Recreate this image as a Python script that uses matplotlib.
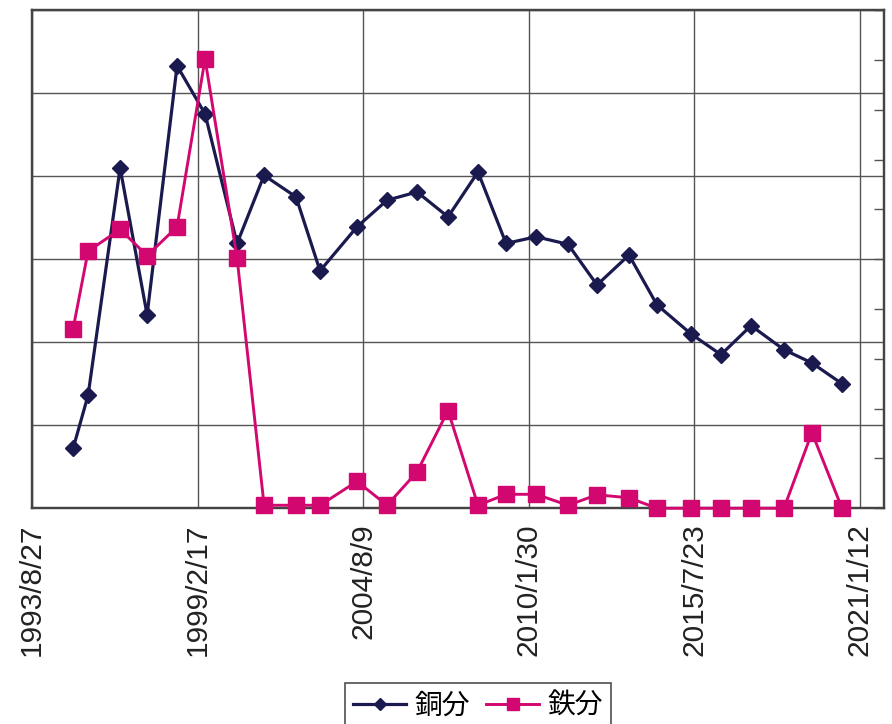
import matplotlib.pyplot as plt
import pandas as pd

# sampling dates and measured values
dates = ['1995/1/4', '1995/7/4', '1996/7/25', '1997/6/16', '1998/6/13',
         '1999/5/17', '2000/6/7', '2001/4/29', '2002/5/20', '2003/3/6',
         '2004/5/26', '2005/5/23', '2006/5/21', '2007/5/30', '2008/5/26',
         '2009/4/30', '2010/4/27', '2011/5/18', '2012/5/3', '2013/5/24',
         '2014/4/27', '2015/6/12', '2016/6/8', '2017/6/6', '2018/7/9',
         '2019/6/12', '2020/6/9']
copper = [7.2, 13.6, 41.0, 23.3, 53.3, 47.5, 31.9, 40.1, 37.5, 28.6,
          33.9, 37.1, 38.1, 35.1, 40.5, 31.9, 32.7, 31.8, 26.9, 30.5,
          24.5, 21.0, 18.5, 22.0, 19.1, 17.5, 15.0]
iron = [0.36, 0.516, 0.56, 0.507, 0.565, 0.902, 0.502, 0.006, 0.006, 0.006,
        0.054, 0.006, 0.073, 0.196, 0.006, 0.028, 0.028, 0.006, 0.027, 0.021,
        0.0, 0.0, 0.0, 0.0, 0.0, 0.152, 0.0]
tick_labels = ['1993/8/27', '1999/2/17', '2004/8/9', '2010/1/30', '2015/7/23', '2021/1/12']

x = pd.to_datetime(dates, format='%Y/%m/%d')
ticks = pd.to_datetime(tick_labels, format='%Y/%m/%d')

navy = '#1b1a4f'
magenta = '#d2076f'

fig = plt.figure(figsize=(8.92, 7.24), dpi=100)
ax = fig.add_axes([0.036, 0.298, 0.955, 0.688])
ax2 = ax.twinx()

l1, = ax.plot(x, copper, color=navy, lw=2.3, marker='D', ms=8.2,
              label='銅分', clip_on=False, zorder=3)
l2, = ax2.plot(x, iron, color=magenta, lw=2.1, marker='s', ms=11,
               label='鉄分', clip_on=False, zorder=3)

ax.set_xlim(pd.Timestamp('1993-08-27'), pd.Timestamp('2021-10-29'))
ax.set_ylim(0, 60)
ax.set_yticks(range(0, 61, 10))
ax.set_yticklabels([])
ax.set_xticks(ticks)
ax.set_xticklabels(tick_labels, rotation=90, fontsize=21.5,
                   family='Liberation Sans', color='#222222')
ax.tick_params(axis='x', length=0, pad=11)
ax.tick_params(axis='y', length=0)
ax.grid(True, color='#555555', lw=1.0)
ax.set_axisbelow(True)

ax2.set_ylim(0, 1.0)
ax2.set_yticks([i / 10 for i in range(11)])
ax2.tick_params(axis='y', direction='in', length=7, width=1,
                color='#555555', labelright=False)

for a in (ax, ax2):
    for s in a.spines.values():
        s.set_color('#444444')
        s.set_linewidth(1.6)

leg = fig.legend(handles=[l1, l2], loc='upper center',
                 bbox_to_anchor=(0.536, 0.057), borderaxespad=0, ncol=2,
                 frameon=True, fancybox=False, edgecolor='#222222',
                 prop={'family': ['Noto Sans CJK JP', 'DejaVu Sans'], 'size': 20},
                 handlelength=1.9, handletextpad=0.3, columnspacing=0.6,
                 borderpad=0.3, markerscale=0.8)
leg.get_frame().set_linewidth(1.2)

fig.savefig('out.png', dpi=100)
